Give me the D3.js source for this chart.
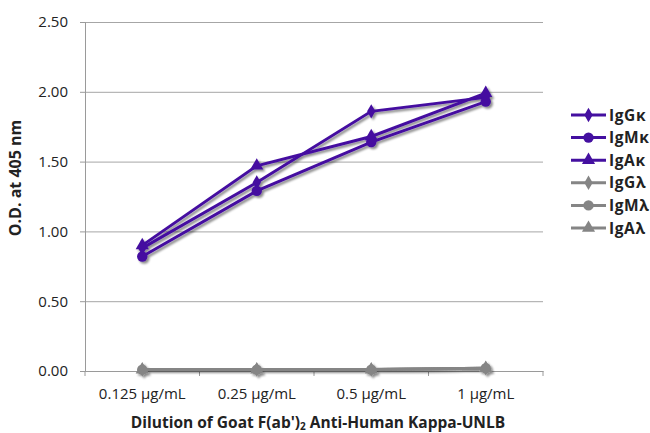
<!DOCTYPE html>
<html>
<head>
<meta charset="utf-8">
<script src="https://cdn.jsdelivr.net/npm/d3@7"></script>
<style>
  body { margin: 0; background: #fff; }
  svg { display: block; font-family: "Open Sans", "Noto Sans", sans-serif; }
</style>
</head>
<body>
<svg id="chart" width="650" height="433"></svg>
<script>
// data
const dilutions = ["0.125 µg/mL", "0.25 µg/mL", "0.5 µg/mL", "1 µg/mL"];
const seriesNames = ["IgGκ", "IgMκ", "IgAκ", "IgGλ", "IgMλ", "IgAλ"];
const IgGk = [0.88, 1.35, 1.86, 1.96];
const IgMk = [0.82, 1.29, 1.64, 1.93];
const IgAk = [0.90, 1.47, 1.68, 1.99];
const IgGl = [0.01, 0.01, 0.01, 0.02];
const IgMl = [0.01, 0.01, 0.01, 0.02];
const IgAl = [0.01, 0.01, 0.01, 0.02];
const yTicks = [0, 0.5, 1, 1.5, 2, 2.5];

const purple = "#4410a0";
const grey = "#858585";
const series = [
  { name: seriesNames[0], values: IgGk, color: purple, shape: d3.symbolDiamond },
  { name: seriesNames[1], values: IgMk, color: purple, shape: d3.symbolCircle },
  { name: seriesNames[2], values: IgAk, color: purple, shape: d3.symbolTriangle },
  { name: seriesNames[3], values: IgGl, color: grey, shape: d3.symbolDiamond },
  { name: seriesNames[4], values: IgMl, color: grey, shape: d3.symbolCircle },
  { name: seriesNames[5], values: IgAl, color: grey, shape: d3.symbolTriangle }
];
function sizeOf(shape) {
  if (shape === d3.symbolDiamond) return 60;
  if (shape === d3.symbolCircle) return 85;
  return 75;
}

const svg = d3.select("#chart");
const plot = { left: 85, right: 543, top: 22, bottom: 371 };

// shadow under lines and markers
svg.append("defs").append("filter").attr("id", "shadow")
  .attr("x", "-20%").attr("y", "-20%").attr("width", "140%").attr("height", "140%")
  .append("feDropShadow")
  .attr("dx", 2).attr("dy", 2).attr("stdDeviation", 1.3)
  .attr("flood-color", "#000").attr("flood-opacity", 0.45);

const x = d3.scaleBand().domain(dilutions).range([plot.left, plot.right]);
const y = d3.scaleLinear().domain([0, 2.5]).range([plot.bottom, plot.top]);

// gridlines
svg.append("g")
  .attr("transform", `translate(${plot.left},0)`)
  .call(d3.axisLeft(y).tickValues(yTicks).tickSize(-(plot.right - plot.left)).tickFormat(""))
  .call(g => g.select(".domain").remove())
  .call(g => g.selectAll("line").attr("stroke", "#a6a6a6").attr("stroke-width", 1));

// y axis
svg.append("g")
  .attr("transform", `translate(${plot.left},0)`)
  .call(d3.axisLeft(y).tickValues(yTicks).tickSize(5).tickPadding(12).tickFormat(d3.format(".2f")))
  .call(g => g.select(".domain").attr("stroke", "#9a9a9a"))
  .call(g => g.selectAll("line").attr("stroke", "#9a9a9a"))
  .call(g => g.selectAll("text").attr("font-size", 15).attr("fill", "#222")
    .attr("font-family", "'Open Sans', sans-serif"));

// x axis
svg.append("g")
  .attr("transform", `translate(0,${plot.bottom})`)
  .call(d3.axisBottom(x).tickSize(0).tickPadding(17))
  .call(g => g.select(".domain").attr("stroke", "#9a9a9a"))
  .call(g => g.selectAll("text").attr("font-size", 15).attr("fill", "#222")
    .attr("font-family", "'Open Sans', sans-serif"));

// tick marks on the category boundaries
svg.append("g")
  .selectAll("line")
  .data(d3.range(dilutions.length + 1))
  .join("line")
  .attr("x1", i => plot.left + i * x.step())
  .attr("x2", i => plot.left + i * x.step())
  .attr("y1", plot.bottom)
  .attr("y2", plot.bottom + 5)
  .attr("stroke", "#9a9a9a");

// axis titles
svg.append("text")
  .attr("transform", `translate(21,178) rotate(-90)`)
  .attr("text-anchor", "middle")
  .attr("font-size", 16).attr("font-weight", "bold").attr("fill", "#222")
  .text("O.D. at 405 nm");

const xt = svg.append("text")
  .attr("x", 318).attr("y", 428)
  .attr("text-anchor", "middle")
  .attr("font-size", 15.5).attr("font-weight", "bold").attr("fill", "#222");
xt.append("tspan").text("Dilution of Goat F(ab')");
xt.append("tspan").attr("font-size", 10).attr("dy", 2).text("2");
xt.append("tspan").attr("dy", -2).text(" Anti-Human Kappa-UNLB");

// lines + markers (lambda first, kappa on top)
const line = d3.line()
  .x((d, i) => x(dilutions[i]) + x.bandwidth() / 2)
  .y(d => y(d));

const drawOrder = series.slice(3).concat(series.slice(0, 3));
const sg = svg.append("g").attr("filter", "url(#shadow)");
drawOrder.forEach(s => {
  const g = sg.append("g");
  g.append("path")
    .attr("d", line(s.values))
    .attr("fill", "none")
    .attr("stroke", s.color)
    .attr("stroke-width", 3);
  g.selectAll("path.pt")
    .data(s.values)
    .join("path")
    .attr("class", "pt")
    .attr("transform", (d, i) => `translate(${x(dilutions[i]) + x.bandwidth() / 2},${y(d)})`)
    .attr("d", d3.symbol().type(s.shape).size(sizeOf(s.shape)))
    .attr("fill", s.color);
});

// legend
const legend = svg.append("g").attr("transform", "translate(571,115)");
const item = legend.selectAll("g")
  .data(series)
  .join("g")
  .attr("transform", (d, i) => `translate(0,${i * 22.6})`);
item.append("line")
  .attr("x1", 0).attr("x2", 35)
  .attr("stroke", d => d.color).attr("stroke-width", 3);
item.append("path")
  .attr("transform", "translate(17.5,0)")
  .attr("d", d => d3.symbol().type(d.shape).size(sizeOf(d.shape))())
  .attr("fill", d => d.color);
item.append("text")
  .attr("x", 38).attr("dy", "0.36em")
  .attr("font-size", 15.5).attr("font-weight", "bold").attr("fill", "#222")
  .attr("letter-spacing", 0.6)
  .text(d => d.name);
</script>
</body>
</html>
